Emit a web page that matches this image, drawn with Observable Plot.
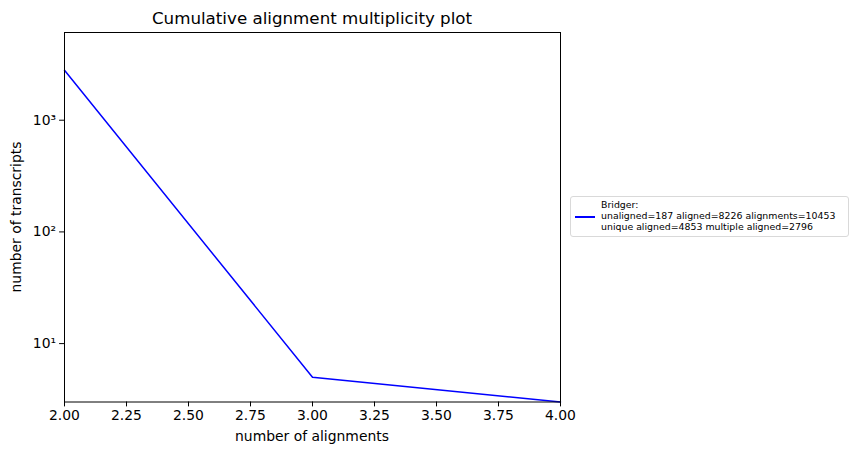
<!DOCTYPE html>
<html>
<head>
<meta charset="utf-8">
<script src="https://cdn.jsdelivr.net/npm/d3@7"></script>
<script src="https://cdn.jsdelivr.net/npm/@observablehq/plot@0.6"></script>
<style>
  body { margin: 0; background: white; }
  #wrap { position: relative; width: 859px; height: 455px; font-family: "DejaVu Sans", sans-serif; color: black; }
  #wrap svg { position: absolute; left: 0; top: 0; }
  .abs { position: absolute; white-space: nowrap; }
  #legend { position: absolute; left: 570px; top: 196px; width: 279px; height: 41px; border: 1px solid #d9d9d9; border-radius: 3px; background: white; box-sizing: border-box; }
  #legend .swatch { position: absolute; left: 4px; top: 19px; width: 20px; height: 2px; background: #0000ff; }
  #legend .txt { position: absolute; left: 30px; top: 2px; font-size: 9.4px; line-height: 11px; white-space: nowrap; }
</style>
</head>
<body>
<div id="wrap"></div>
<script>
const alignments = [2, 3, 4];
const transcripts = [2796, 5, 3];
const xTicks = [2.0, 2.25, 2.5, 2.75, 3.0, 3.25, 3.5, 3.75, 4.0];
const yTicks = [10, 100, 1000];
const yTickLabels = ["10\u00B9", "10\u00B2", "10\u00B3"];
const titleText = "Cumulative alignment multiplicity plot";
const xLabel = "number of alignments";
const yLabel = "number of transcripts";
const legendLines = ["Bridger:", "unaligned=187 aligned=8226 alignments=10453", "unique aligned=4853 multiple aligned=2796"];

const data = alignments.map((a, i) => ({x: a, y: transcripts[i]}));

const chart = Plot.plot({
  width: 859,
  height: 455,
  marginLeft: 64,
  marginRight: 299,
  marginTop: 32,
  marginBottom: 53.5,
  style: {fontFamily: "DejaVu Sans", fontSize: "13.9px", color: "black", background: "white", overflow: "visible"},
  x: {domain: [2, 4]},
  y: {type: "log", domain: [3, 6100]},
  marks: [
    Plot.line(data, {x: "x", y: "y", stroke: "#0000ff", strokeWidth: 1.5}),
    Plot.frame({stroke: "black", strokeWidth: 1}),
    Plot.axisX({ticks: xTicks, tickFormat: d3.format(".2f"), tickSize: 4.9, tickPadding: 3.5, label: null, stroke: "black", strokeWidth: 1}),
    Plot.axisY({ticks: yTicks, tickFormat: (d) => yTickLabels[yTicks.indexOf(d)], tickSize: 4.9, tickPadding: 3.5, label: null, stroke: "black", strokeWidth: 1})
  ]
});

const wrap = document.getElementById("wrap");
wrap.appendChild(chart);

function addText(txt, css) {
  const d = document.createElement("div");
  d.className = "abs";
  d.textContent = txt;
  Object.assign(d.style, css);
  wrap.appendChild(d);
  return d;
}
addText(titleText, {left: "312px", top: "8px", transform: "translateX(-50%)", fontSize: "16.7px"});
addText(xLabel, {left: "312px", top: "428px", transform: "translateX(-50%)", fontSize: "13.9px"});
addText(yLabel, {left: "16px", top: "217px", transform: "translate(-50%,-50%) rotate(-90deg)", fontSize: "13.9px"});

const lg = document.createElement("div");
lg.id = "legend";
lg.innerHTML = '<div class="swatch"></div><div class="txt"></div>';
lg.querySelector(".txt").innerHTML = legendLines.map(s => s.replace(/&/g, "&amp;")).join("<br>");
wrap.appendChild(lg);
</script>
</body>
</html>
